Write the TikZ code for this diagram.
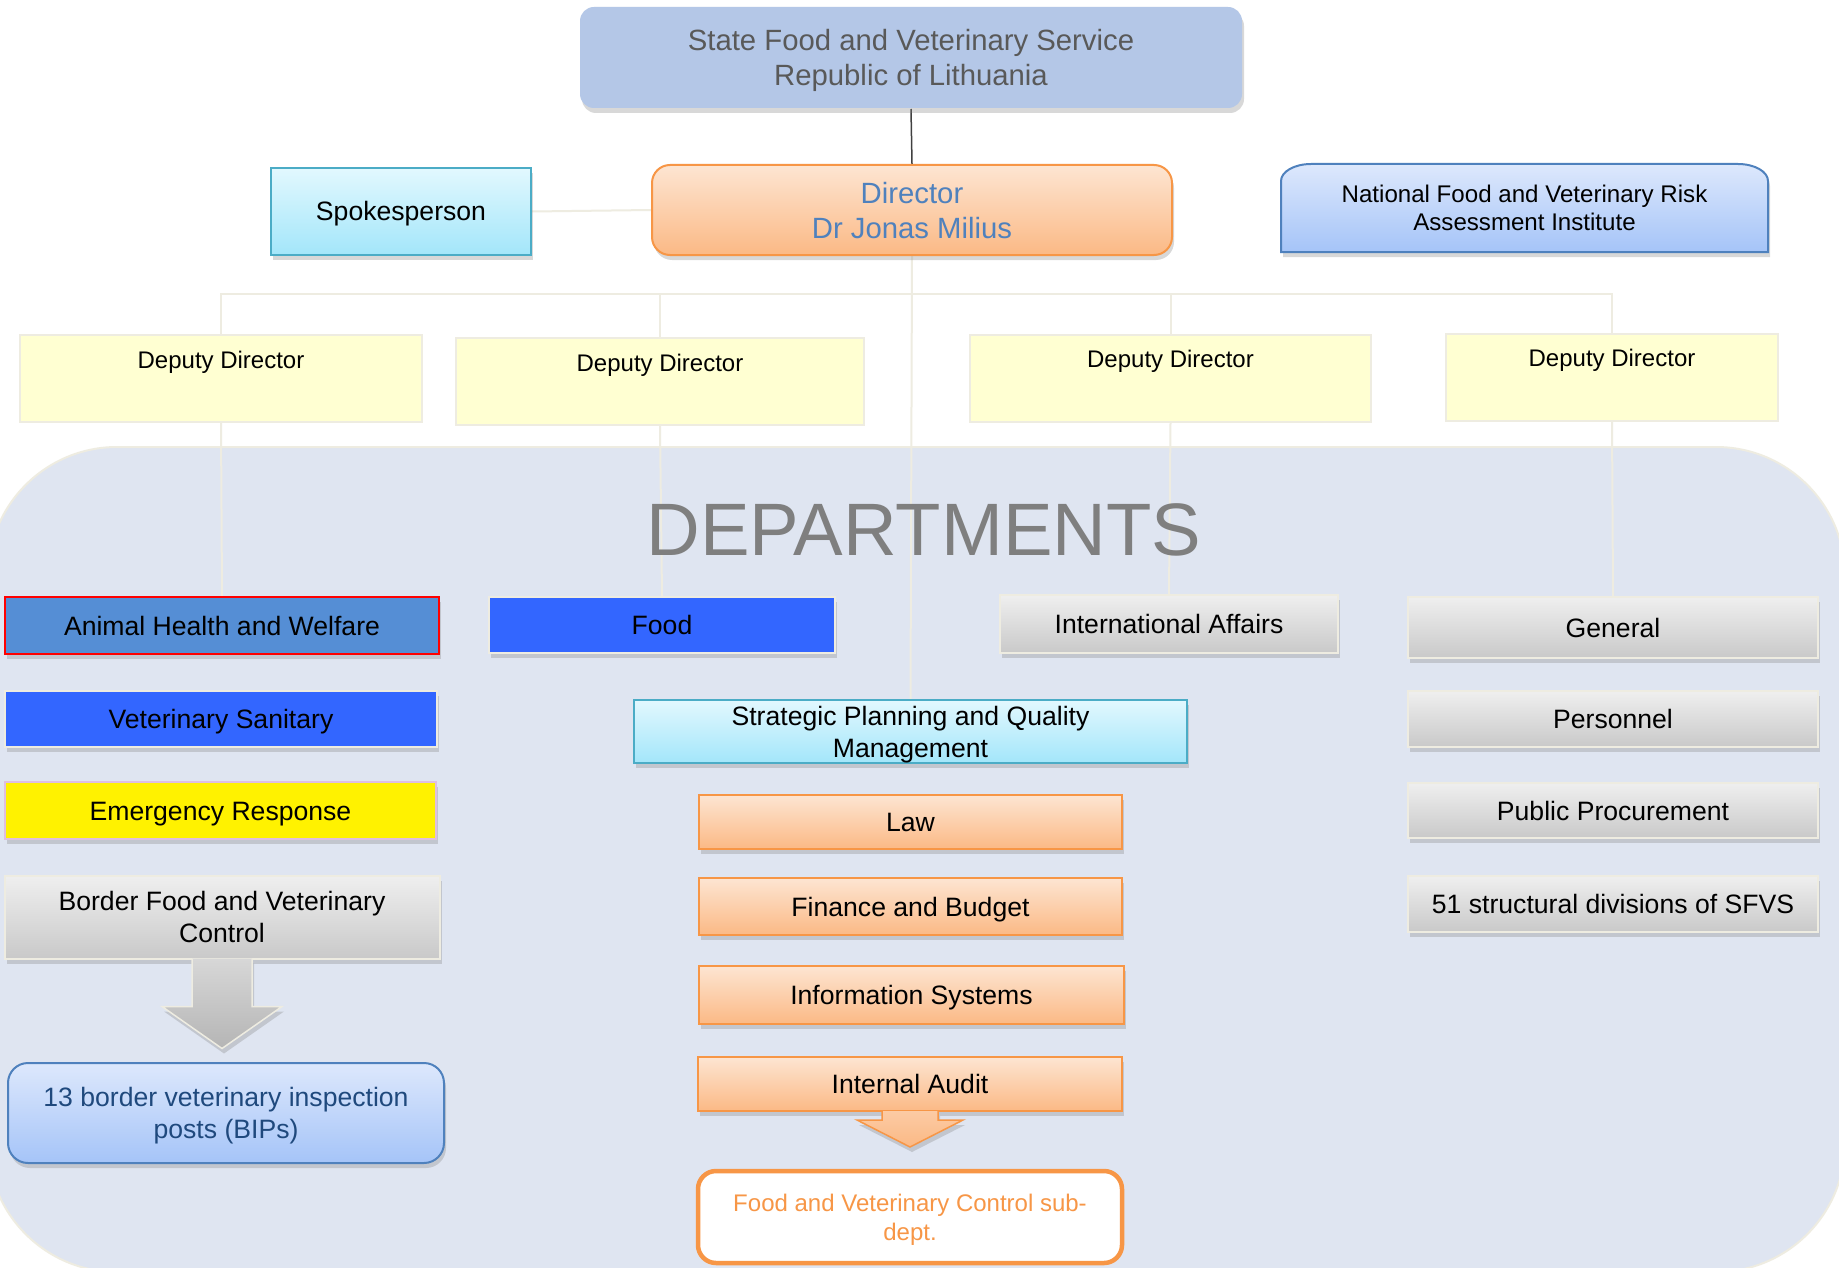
\documentclass[tikz,border=0pt]{standalone}
\usepackage{fontspec}
\setmainfont{Liberation Sans}
\usetikzlibrary{calc,shadows}

\definecolor{servicefill}{HTML}{B4C7E7}
\definecolor{txtgray}{HTML}{595959}
\definecolor{accorange}{HTML}{F79646}
\definecolor{orangetop}{HTML}{FDE5D2}
\definecolor{orangebot}{HTML}{FBB985}
\definecolor{acccyan}{HTML}{4BACC6}
\definecolor{cyantop}{HTML}{E2F8FE}
\definecolor{cyanbot}{HTML}{A3E6FA}
\definecolor{accblue}{HTML}{4F81BD}
\definecolor{bluetop}{HTML}{DDE8FC}
\definecolor{bluebot}{HTML}{A5C4F8}
\definecolor{paleline}{HTML}{EEECE1}
\definecolor{deputyfill}{HTML}{FFFFD2}
\definecolor{deptback}{HTML}{DFE5F1}
\definecolor{graytop}{HTML}{EFEFEF}
\definecolor{graybot}{HTML}{C9C9C9}
\definecolor{ahwblue}{HTML}{558ED5}
\definecolor{brightblue}{HTML}{3366FF}
\definecolor{bipstext}{HTML}{1F497D}
\definecolor{deptgray}{HTML}{7F7F7F}

\pgfdeclarelayer{back}
\pgfdeclarelayer{wire}
\pgfsetlayers{back,wire,main}

\tikzset{
	unit/.style={draw, line width=2pt, inner sep=0pt, align=center, font=\fontsize{26.6}{32}\selectfont, text height=19pt, text depth=0pt},
	twolines/.style={text height=51pt},
	bigtext/.style={font=\fontsize{29.3}{35}\selectfont, text height=56pt},
	smalltext/.style={font=\fontsize{24.1}{28.5}\selectfont, text height=45.8pt},
	lifted/.style={drop shadow={opacity=0.3, shadow xshift=2pt, shadow yshift=-5pt}},
	orangebox/.style={unit, lifted, draw=accorange, top color=orangetop, bottom color=orangebot},
	cyanbox/.style={unit, lifted, draw=acccyan, top color=cyantop, bottom color=cyanbot},
	bluebox/.style={unit, lifted, draw=accblue, top color=bluetop, bottom color=bluebot},
	graybox/.style={unit, lifted, draw=paleline, top color=graytop, bottom color=graybot},
	deputy/.style={unit, draw=paleline, fill=deputyfill, font=\fontsize{24}{29}\selectfont, text height=33pt, text depth=54pt},
	wire/.style={draw=paleline, line width=2pt},
}

\begin{document}
\begin{tikzpicture}[x=1pt, y=-1pt]
	\useasboundingbox (0,0) rectangle (1839,1268);
	
	%%%%% BACKGROUND %%%%%
	\begin{pgfonlayer}{back}
		\fill[white] (0,0) rectangle (1839,1268);
		\draw[fill=deptback, draw=paleline, line width=2pt, rounded corners=129pt] (-12,447) rectangle (1845,1272);
	\end{pgfonlayer}
	
	%%%%% TOP %%%%%
	\node[unit, bigtext, lifted, draw=none, fill=servicefill, rounded corners=14pt, text=txtgray, minimum width=662pt, minimum height=101pt] (service) at (911,57.5) {State Food and Veterinary Service\\Republic of Lithuania};
	\node[orangebox, bigtext, rounded corners=18pt, text=accblue, minimum width=520pt, minimum height=90pt] (director) at (912,210) {Director\\Dr Jonas Milius};
	\node[cyanbox, minimum width=260pt, minimum height=87pt] (spokes) at (401,211.5) {Spokesperson};
	\node[unit, smalltext, draw=none, minimum width=485pt, minimum height=86pt] (riskinst) at (1524.5,208) {National Food and Veterinary Risk\\Assessment Institute};
	
	%%%%% DEPUTIES %%%%%
	\node[deputy, minimum width=402pt] (dep1) at (221,378.5) {Deputy Director};
	\node[deputy, minimum width=408pt] (dep2) at (660,381.5) {Deputy Director};
	\node[deputy, minimum width=401pt] (dep3) at (1170.5,378) {Deputy Director};
	\node[deputy, minimum width=332pt] (dep4) at (1612,377) {Deputy Director};
	
	\node[text=deptgray, font=\fontsize{74.3}{88}\selectfont] (deptlabel) at (924,530) {DEPARTMENTS};
	
	%%%%% LEFT COLUMN %%%%%
	\node[unit, lifted, draw=red, fill=ahwblue, minimum width=434pt, minimum height=57pt] (animal) at (222,625.5) {Animal Health and Welfare};
	\node[unit, lifted, draw=paleline, fill=brightblue, minimum width=432pt, minimum height=56pt] (vetsan) at (221,719) {Veterinary Sanitary};
	\node[unit, lifted, draw=violet!25, fill=yellow, minimum width=431pt, minimum height=57pt] (emerg) at (220.5,810.5) {Emergency Response};
	\node[graybox, twolines, minimum width=435pt, minimum height=83pt] (border) at (222,917) {Border Food and Veterinary\\Control};
	\node[bluebox, twolines, rounded corners=20pt, text=bipstext, minimum width=436pt, minimum height=100pt] (bips) at (226,1113) {13 border veterinary inspection\\posts (BIPs)};
	
	%%%%% MIDDLE COLUMN %%%%%
	\node[unit, lifted, draw=paleline, fill=brightblue, minimum width=346pt, minimum height=56pt] (food) at (662,625) {Food};
	\node[cyanbox, twolines, minimum width=553pt, minimum height=63pt] (strategy) at (910.5,731.5) {Strategic Planning and Quality\\Management};
	\node[orangebox, minimum width=423pt, minimum height=54pt] (law) at (910.5,822) {Law};
	\node[orangebox, minimum width=423pt, minimum height=57pt] (finance) at (910.5,906.5) {Finance and Budget};
	\node[orangebox, minimum width=425pt, minimum height=58pt] (infosys) at (911.5,995) {Information Systems};
	\node[orangebox, minimum width=424pt, minimum height=54pt] (audit) at (910,1084) {Internal Audit};
	\node[unit, draw=accorange, line width=4.5pt, fill=white, rounded corners=18pt, text=accorange, font=\fontsize{24}{29}\selectfont, text height=46.2pt, minimum width=424pt, minimum height=92pt] (subdept) at (910,1217) {Food and Veterinary Control sub-\\dept.};
	
	%%%%% RIGHT COLUMNS %%%%%
	\node[graybox, minimum width=338pt, minimum height=58pt] (intl) at (1169,624) {International Affairs};
	\node[graybox, minimum width=410pt, minimum height=61pt] (general) at (1613,627.5) {General};
	\node[graybox, minimum width=410pt, minimum height=56pt] (personnel) at (1613,719) {Personnel};
	\node[graybox, minimum width=410pt, minimum height=55pt] (procure) at (1613,810.5) {Public Procurement};
	\node[graybox, minimum width=410pt, minimum height=56pt] (divisions) at (1613,904) {51 structural divisions of SFVS};
	
	%%%%% BLOCK ARROWS %%%%%
	\path[lifted, draw=paleline, line width=1.5pt, top color=graytop!90!black, bottom color=graybot!90!black] ($(border.south)+(-30,-1)$) -- ++(0,48) -- ++(-30,0) -- ($(border.south)+(0,89)$) -- ++(60,-42) -- ++(-30,0) -- ++(0,-48);
	\path[lifted, draw=accorange, line width=1.5pt, top color=orangebot!60!orangetop, bottom color=orangebot] ($(audit.south)+(-28,-1)$) -- ++(0,9) -- ++(-25,0) -- ($(audit.south)+(0,35)$) -- ++(53,-27) -- ++(-25,0) -- ++(0,-9);
	
	%%%%% CONNECTORS %%%%%
	\coordinate (bus) at (912,294);
	\begin{pgfonlayer}{wire}
		\path[lifted, draw=accblue, line width=2pt, top color=bluetop, bottom color=bluebot] (riskinst.south west) -- ($(riskinst.north west)+(0,17)$) arc[start angle=180, end angle=90, x radius=30pt, y radius=17pt] -- ($(riskinst.north east)+(-30,0)$) arc[start angle=90, end angle=0, x radius=30pt, y radius=17pt] -- (riskinst.south east) -- cycle;
		
		\draw[line width=1.5pt, draw=black!75] (service.south) -- (director.north);
		\draw[wire] (spokes.east) -- (director.west);
		\draw[wire] (director.south) -- (strategy.north);
		\draw[wire] (dep1.north) |- (bus) -| (dep4.north);
		\draw[wire] (dep2.north) |- (bus);
		\draw[wire] (dep3.north) |- (bus);
		\draw[wire] (dep1.south) -- (animal.north);
		\draw[wire] (dep2.south) -- (food.north);
		\draw[wire] (dep3.south) -- (intl.north);
		\draw[wire] (dep4.south) -- (general.north);
	\end{pgfonlayer}
\end{tikzpicture}
\end{document}
